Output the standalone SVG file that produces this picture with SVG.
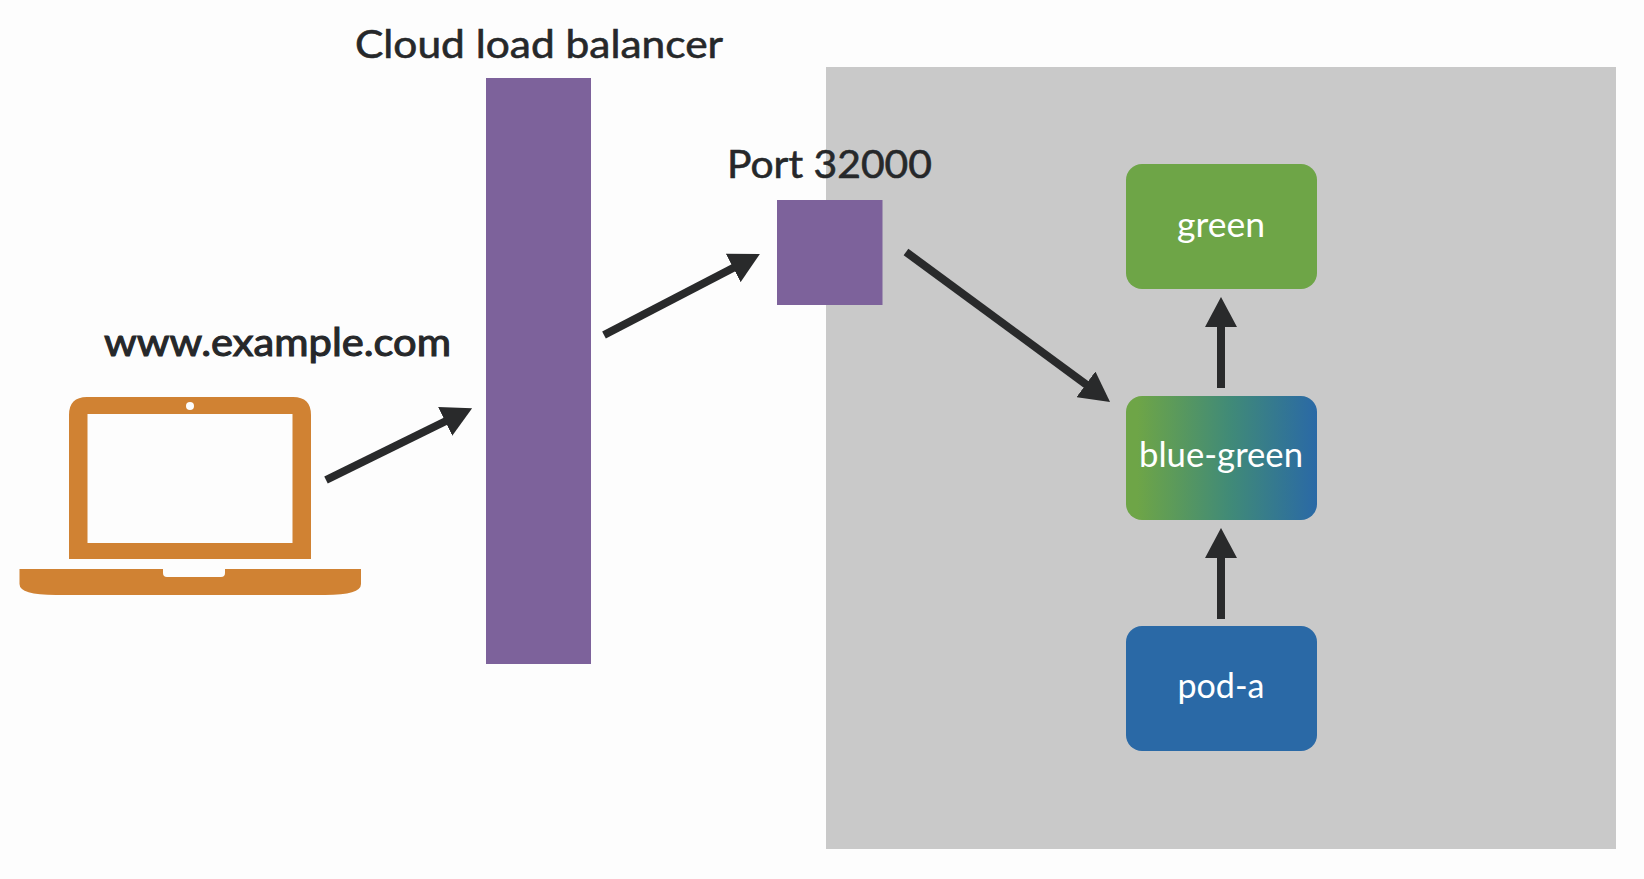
<svg xmlns="http://www.w3.org/2000/svg" width="1644" height="879" viewBox="0 0 1644 879">
  <style>
    .purple { fill: #7d629b; }
    .label { font-family: "Lato", "Liberation Sans", sans-serif; font-size: 39px; fill: #26282a; stroke: #26282a; stroke-width: 0.6px; }
    .pod { font-family: "Lato", "Liberation Sans", sans-serif; font-size: 35px; fill: #ffffff; text-anchor: middle; }
    .conn { stroke: #292a2b; stroke-width: 8; fill: none; marker-end: url(#head); }
  </style>
  <defs>
    <marker id="head" markerUnits="userSpaceOnUse" viewBox="0 0 30 32" refX="2" refY="16" markerWidth="30" markerHeight="32" orient="auto">
      <path d="M0 0L30 16L0 32Z" fill="#292a2b"/>
    </marker>
    <linearGradient id="bg" x1="0" y1="0" x2="1" y2="0">
      <stop offset="0.06" stop-color="#6ea547"/>
      <stop offset="0.55" stop-color="#408a78"/>
      <stop offset="1" stop-color="#2a69a6"/>
    </linearGradient>
  </defs>
  <rect width="1644" height="879" fill="#fdfdfd"/>
  <g id="cluster"><rect x="826" y="67" width="790" height="782" fill="#c9c9c9"/></g>
  <g id="laptop">
    <path fill-rule="evenodd" fill="#d08233" d="M87 397H293Q311 397 311 415V559H69V415Q69 397 87 397ZM87.500 414V543H292.500V414Z"/>
    <circle cx="190" cy="406" r="4" fill="#fdfdfd"/>
    <path fill="#d08233" d="M19.500 569H163V573Q163 577 167 577H221Q225 577 225 573V569H361V584Q361 595 325 595H56Q19.500 595 19.500 584Z"/>
    <text class="label" x="104" y="356" style="stroke-width:1.100px" textLength="347" lengthAdjust="spacingAndGlyphs">www.example.com</text>
  </g>
  <g id="load-balancer">
    <rect class="purple" x="486" y="78" width="105" height="586"/>
    <text class="label" x="355" y="57.500" textLength="368" lengthAdjust="spacingAndGlyphs">Cloud load balancer</text>
  </g>
  <g id="port">
    <rect class="purple" x="777" y="200" width="105.500" height="105"/>
    <text class="label" x="727" y="178" textLength="205" lengthAdjust="spacingAndGlyphs">Port 32000</text>
  </g>
  <g id="green">
    <rect x="1126" y="164" width="191" height="125" rx="16" fill="#6ea547"/>
    <text class="pod" x="1221" y="237" textLength="88" lengthAdjust="spacingAndGlyphs">green</text>
  </g>
  <g id="blue-green">
    <rect x="1126" y="396" width="191" height="124" rx="16" fill="url(#bg)"/>
    <text class="pod" x="1221" y="467" textLength="164" lengthAdjust="spacingAndGlyphs">blue-green</text>
  </g>
  <g id="pod-a">
    <rect x="1126" y="626" width="191" height="125" rx="16" fill="#2a69a6"/>
    <text class="pod" x="1221" y="698" textLength="87" lengthAdjust="spacingAndGlyphs">pod-a</text>
  </g>
  <g id="connectors">
    <line class="conn" x1="326" y1="480" x2="447" y2="420.500"/>
    <line class="conn" x1="604" y1="335" x2="735" y2="267"/>
    <line class="conn" x1="906" y1="252" x2="1087.500" y2="385.500"/>
    <line class="conn" x1="1221" y1="388" x2="1221" y2="325"/>
    <line class="conn" x1="1221" y1="619" x2="1221" y2="556"/>
  </g>
</svg>
